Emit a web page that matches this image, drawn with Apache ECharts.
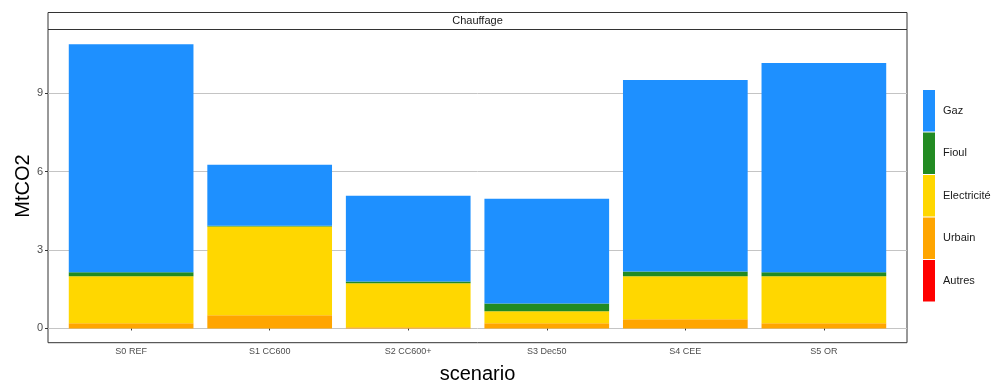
<!DOCTYPE html>
<html>
<head>
<meta charset="utf-8">
<script src="https://cdn.jsdelivr.net/npm/echarts@6/dist/echarts.min.js"></script>
<style>
  html, body { margin: 0; padding: 0; background: #fff; }
  #chart { width: 997px; height: 385px; }
</style>
</head>
<body>
<div id="chart"></div>
<script>
// Heating emissions by scenario (MtCO2), stacked by energy source
const scenarios = ['S0 REF', 'S1 CC600', 'S2 CC600+', 'S3 Dec50', 'S4 CEE', 'S5 OR'];
const autres      = [0, 0, 0, 0, 0, 0];
const urbain      = [0.20, 0.51, 0.05, 0.20, 0.355, 0.20];
const electricite = [1.80, 3.39, 1.68, 0.46, 1.645, 1.80];
const fioul       = [0.15, 0.03, 0.07, 0.30, 0.18, 0.15];
const gaz         = [8.73, 2.34, 3.28, 4.01, 7.33, 8.01];
const yTicks = [0, 3, 6, 9];

const yMin = -0.545, yMax = 11.445;
const FONT = 'Liberation Sans, Arial, sans-serif';

const chart = echarts.init(document.getElementById('chart'), null, { renderer: 'canvas' });

function barSeries(name, data, color) {
  return {
    name: name, type: 'bar', stack: 'total', data: data,
    xAxisIndex: 1, yAxisIndex: 1,
    barCategoryGap: '10%',
    itemStyle: { color: color },
    emphasis: { disabled: true }
  };
}

chart.setOption({
  animation: false,
  textStyle: { fontFamily: FONT },
  grid: [
    // full panel: border + horizontal grid lines + y labels
    { left: 48, right: 90, top: 29.5, bottom: 42.3, show: true,
      borderColor: '#333', borderWidth: 1, backgroundColor: '#fff',
      containLabel: false, outerBoundsMode: 'none' },
    // bar area (inset by the discrete-scale expansion)
    { left: 61.85, right: 103.85, top: 29.5, bottom: 42.3,
      containLabel: false, outerBoundsMode: 'none' }
  ],
  xAxis: [
    { type: 'value', gridIndex: 0, min: 0, max: 1, show: false },
    { type: 'category', gridIndex: 1, data: scenarios,
      axisLine: { show: false },
      axisTick: { show: true, alignWithLabel: true, length: 2, lineStyle: { color: '#333' } },
      axisLabel: { color: '#4d4d4d', fontSize: 9, margin: 4, fontFamily: FONT },
      splitLine: { show: false } }
  ],
  yAxis: [
    { type: 'value', gridIndex: 0, min: yMin, max: yMax,
      axisLine: { show: false },
      axisTick: { show: true, length: 3, lineStyle: { color: '#333' },
        customValues: yTicks },
      axisLabel: { color: '#4d4d4d', fontSize: 11, margin: 5, fontFamily: FONT,
        customValues: yTicks },
      splitLine: { show: true, lineStyle: { color: '#c4c4c4', width: 1 } },
      splitNumber: 4,
      name: 'MtCO2', nameLocation: 'middle', nameGap: 15, nameMoveOverlap: false,
      nameTextStyle: { fontSize: 20, color: '#000', fontFamily: FONT }
    },
    { type: 'value', gridIndex: 1, min: yMin, max: yMax, show: false }
  ],
  legend: {
    orient: 'vertical', left: 923, top: 90, padding: 0,
    data: ['Gaz', 'Fioul', 'Electricité', 'Urbain', 'Autres'],
    icon: 'rect', itemWidth: 12, itemHeight: 41.5, itemGap: 1,
    textStyle: { fontSize: 11, color: '#1a1a1a', fontFamily: FONT, padding: [0, 0, 0, 3] },
    selectedMode: false
  },
  graphic: [
    { type: 'rect', shape: { x: 48, y: 12.5, width: 859, height: 17 },
      style: { fill: '#fff', stroke: '#333', lineWidth: 1 } },
    { type: 'text', x: 477.5, y: 21, style: { text: 'Chauffage', fontSize: 11,
      fontFamily: FONT, fill: '#1a1a1a', align: 'center', verticalAlign: 'middle' } },
    { type: 'text', x: 477.5, y: 374, style: { text: 'scenario', fontSize: 20,
      fontFamily: FONT, fill: '#000', align: 'center', verticalAlign: 'middle' } }
  ],
  series: [
    barSeries('Autres', autres, '#FF0000'),
    barSeries('Urbain', urbain, '#FFA500'),
    barSeries('Electricité', electricite, '#FFD700'),
    barSeries('Fioul', fioul, '#228B22'),
    barSeries('Gaz', gaz, '#1E90FF')
  ]
});
</script>
</body>
</html>
